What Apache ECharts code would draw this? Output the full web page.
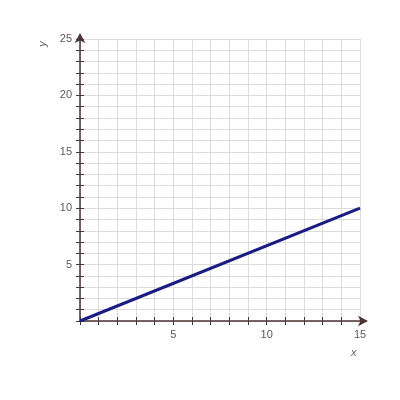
<!DOCTYPE html>
<html>
<head>
<meta charset="utf-8">
<script src="https://cdn.jsdelivr.net/npm/echarts@6/dist/echarts.min.js"></script>
<style>
  html, body { margin: 0; padding: 0; background: #fff; }
  #chart { width: 400px; height: 400px; }
</style>
</head>
<body>
<div id="chart"></div>
<script>
// line y = (2/3)x
const xValues = [0, 15];
const yValues = [0, 10];
const xRange = [0, 15];
const yRange = [0, 25];

const axisColor = '#4a3333';
const labelFmt = v => (v > 0 && v % 5 === 0) ? String(v) : '';

const chart = echarts.init(document.getElementById('chart'));

function xAxisDef(inside, main) {
    return {
        type: 'value', min: xRange[0], max: xRange[1], interval: 1,
        position: 'bottom',
        axisLine: main ? { show: true, lineStyle: { color: axisColor, width: 1.5 },
            symbol: ['none', 'arrow'], symbolSize: [8, 10], symbolOffset: [0, 8] } : { show: false },
        axisTick: { show: true, inside: inside, length: 4, lineStyle: { color: axisColor } },
        axisLabel: main ? { formatter: labelFmt, color: '#5e5560', fontSize: 11,
            fontFamily: 'Liberation Sans, Arial, sans-serif', margin: 8 } : { show: false },
        splitLine: main ? { show: true, lineStyle: { color: '#dcdcdc' } } : { show: false }
    };
}
function yAxisDef(inside, main) {
    return {
        type: 'value', min: yRange[0], max: yRange[1], interval: 1,
        position: 'left',
        axisLine: main ? { show: true, lineStyle: { color: axisColor, width: 1.5 },
            symbol: ['none', 'arrow'], symbolSize: [8, 10], symbolOffset: [0, 6] } : { show: false },
        axisTick: { show: true, inside: inside, length: 4, lineStyle: { color: axisColor } },
        axisLabel: main ? { formatter: labelFmt, color: '#5e5560', fontSize: 11,
            fontFamily: 'Liberation Sans, Arial, sans-serif', margin: 8 } : { show: false },
        splitLine: main ? { show: true, lineStyle: { color: '#dcdcdc' } } : { show: false }
    };
}

let option = {
    animation: false,
    grid: { left: 80, right: 40, top: 39, bottom: 79 },
    xAxis: [xAxisDef(false, true), xAxisDef(true, false)],
    yAxis: [yAxisDef(false, true), yAxisDef(true, false)],
    graphic: [
        { type: 'text', left: 351, top: 347,
          style: { text: 'x', font: 'italic 11px Liberation Sans, sans-serif', fill: '#666' } },
        { type: 'text', x: 43, y: 44, rotation: Math.PI / 2,
          style: { text: 'y', font: 'italic 11px Liberation Sans, sans-serif', fill: '#666', textAlign: 'center', textVerticalAlign: 'middle' } }
    ],
    series: [{
        type: 'line',
        data: xValues.map((x, i) => [x, yValues[i]]),
        showSymbol: false,
        lineStyle: { color: '#1b1b84', width: 3 },
        z: 5
    }]
};
chart.setOption(option);
</script>
</body>
</html>
